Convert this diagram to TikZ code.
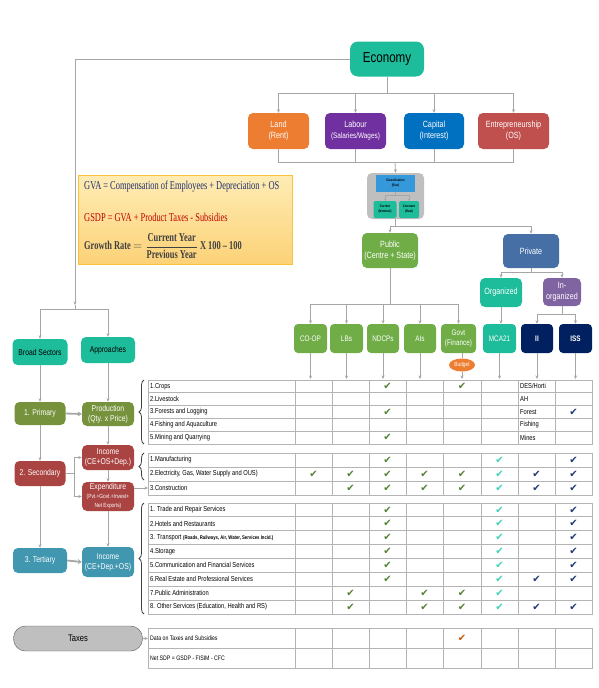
\documentclass[tikz,border=0pt]{standalone}
\usepackage{fontspec}
\usepackage{amsmath}
\setmainfont{Liberation Sans}[FakeStretch=0.8]
\newfontfamily\serifn{Liberation Serif}[FakeStretch=0.7]
\newfontfamily\dej{DejaVu Sans}
\usetikzlibrary{arrows.meta,shapes.geometric,decorations.pathreplacing,calc}
\definecolor{linegray}{RGB}{166,166,166}
\definecolor{tabgray}{RGB}{180,180,180}
\definecolor{tealA}{RGB}{29,188,154}
\definecolor{orangeA}{RGB}{237,125,49}
\definecolor{purpleA}{RGB}{112,48,160}
\definecolor{blueA}{RGB}{0,112,192}
\definecolor{redA}{RGB}{192,80,77}
\definecolor{grayA}{RGB}{191,191,191}
\definecolor{grayB}{RGB}{89,89,89}
\definecolor{blueB}{RGB}{52,152,219}
\definecolor{greenA}{RGB}{112,173,71}
\definecolor{steelA}{RGB}{70,112,165}
\definecolor{purpleB}{RGB}{128,100,162}
\definecolor{navyA}{RGB}{0,32,96}
\definecolor{oliveA}{RGB}{118,146,60}
\definecolor{redB}{RGB}{169,68,66}
\definecolor{tealB}{RGB}{65,150,176}
\definecolor{ckg}{RGB}{84,130,53}
\definecolor{ckt}{RGB}{64,208,184}
\definecolor{ckn}{RGB}{31,56,120}
\definecolor{cko}{RGB}{197,90,17}
\definecolor{fnavy}{RGB}{31,47,111}
\definecolor{fred}{RGB}{192,0,0}
\definecolor{fgray}{RGB}{64,64,64}
\definecolor{fborder}{RGB}{249,194,60}
\definecolor{ftop}{RGB}{254,236,180}
\definecolor{fbot}{RGB}{252,210,120}
\newcommand\ck[3]{\node[chk,text=#3] at (#1,#2) {✔};}
\newcommand\tabsec[4]{%
  \foreach \x in {295,332,369,406,443,481,518,555} {\draw[tabline] (\x,#1) -- (\x,#2);}
  \foreach \k in {1,...,#4} {\draw[tabline] (148,{#1+(#2-#1)*\k/#3}) -- (592,{#1+(#2-#1)*\k/#3});}
  \draw[tabline] (148,#1) rectangle (592,#2);
}
\tikzset{
  box/.style={rounded corners=5pt, align=center, inner sep=1pt, text=white,
    font=\fontsize{9}{11}\selectfont},
  lbox/.style={box, font=\fontsize{8.5}{10}\selectfont},
  cbox/.style={box, rounded corners=4pt, minimum height=29pt, font=\fontsize{8}{9.5}\selectfont},
  conn/.style={draw=linegray, line width=0.8pt},
  arr/.style={conn, -{Stealth[length=3.5pt,width=3pt]}},
  thickarr/.style={draw=linegray, line width=1.8pt, -{Stealth[length=4pt,width=5pt]}},
  tabline/.style={draw=tabgray, line width=0.8pt},
  tt/.style={anchor=west, inner sep=0pt, font=\fontsize{7.2}{8}\selectfont},
  chk/.style={inner sep=0pt, font=\dej\fontsize{10}{10}\selectfont},
  brc/.style={draw=fgray, line width=0.8pt, decorate, decoration={brace, amplitude=5pt}},
}
\begin{document}
\begin{tikzpicture}[x=1pt,y=-1pt]
\useasboundingbox (0,0) rectangle (598,688);

% ---------- top tree ----------
\node[box, fill=tealA, text=black, minimum width=74pt, minimum height=35pt, rounded corners=8pt,
  font=\fontsize{14.5}{16}\selectfont] (eco) at (387,59) {Economy};
\node[box, fill=orangeA, minimum width=61pt, minimum height=36pt] (land) at (278.5,131) {Land\\(Rent)};
\node[box, fill=purpleA, minimum width=61pt, minimum height=36pt] (labour) at (355.5,131) {Labour\\{\fontsize{8}{9}\selectfont(Salaries/Wages)}};
\node[box, fill=blueA, minimum width=60pt, minimum height=36pt] (capital) at (434,131) {Capital\\(Interest)};
\node[box, fill=redA, minimum width=71pt, minimum height=36pt] (entre) at (513.5,131) {Entrepreneurship\\(OS)};

\foreach \n in {land,labour,capital,entre} {\draw[arr] (eco.south) -- ++(0,16.5) -| (\n.north);}

\coordinate (fj) at (395,162);
\draw[conn] (land.south) |- (fj);
\draw[conn] (entre.south) |- (fj);
\draw[conn] (labour.south) -- (labour.south |- fj);
\draw[conn] (capital.south) -- (capital.south |- fj);

\node[fill=grayA, rounded corners=5pt, minimum width=57pt, minimum height=46pt, inner sep=0pt] (gbox) at (395.5,196) {};
\draw[arr] (fj) -- (gbox.north);
\node[fill=blueB, minimum width=39pt, minimum height=17pt, inner sep=0pt, align=center,
  font=\bfseries\fontsize{3.5}{5}\selectfont] (gsub) at (395.5,183.5) {Classification\\(Size)};
\node[fill=tealA, rounded corners=2pt, minimum width=23pt, minimum height=17pt, inner sep=0pt, align=center,
  font=\bfseries\fontsize{3.5}{5}\selectfont] (cur) at (385,209.5) {Current\\(Nominal)};
\node[fill=tealA, rounded corners=2pt, minimum width=20pt, minimum height=17pt, inner sep=0pt, align=center,
  font=\bfseries\fontsize{3.5}{5}\selectfont] (con) at (409,209.5) {Constant\\(Real)};
\draw[conn, line width=0.5pt, -{Stealth[length=2pt,width=2pt]}] (gsub.south) -- ++(0,3) -| (cur.north);
\draw[conn, line width=0.5pt, -{Stealth[length=2pt,width=2pt]}] (gsub.south) -- ++(0,3) -| (con.north);

\node[box, fill=greenA, minimum width=56pt, minimum height=35pt] (public) at (390,250.5) {Public\\(Centre + State)};
\node[box, fill=steelA, minimum width=56pt, minimum height=34pt] (private) at (531,251) {Private};
\draw[arr] (gbox.south) -- ++(0,7) -| (public.north);
\draw[arr] (gbox.south) -- ++(0,7) -| (private.north);

\node[box, fill=tealA, minimum width=42pt, minimum height=29pt] (org) at (501,292.5) {Organized};
\node[box, fill=purpleB, minimum width=38pt, minimum height=28pt] (inorg) at (562,292) {In-\\organized};
\draw[arr] (private.south) -- ++(0,4) -| (org.north);
\draw[arr] (private.south) -- ++(0,4) -| (inorg.north);

% column heads
\node[cbox, fill=greenA, minimum width=33pt] (coop) at (310.5,338.5) {CO-OP};
\node[cbox, fill=greenA, minimum width=33pt] (lbs) at (346.5,338.5) {LBs};
\node[cbox, fill=greenA, minimum width=32pt] (ndcp) at (383,338.5) {NDCPs};
\node[cbox, fill=greenA, minimum width=32pt] (ais) at (420,338.5) {AIs};
\node[cbox, fill=greenA, minimum width=35pt] (govt) at (458.5,338.5) {Govt\\(Finance)};
\node[cbox, fill=tealA, minimum width=33pt] (mca) at (499.5,338.5) {MCA21};
\node[cbox, fill=navyA, minimum width=32pt, font=\bfseries\fontsize{8}{9.5}\selectfont] (ii) at (537,338.5) {II};
\node[cbox, fill=navyA, minimum width=33pt, font=\bfseries\fontsize{8}{9.5}\selectfont] (iss) at (575.5,338.5) {ISS};

\foreach \n in {coop,lbs,ndcp,ais,govt} {\draw[arr] (public.south) -- ++(0,36) -| (\n.north);}
\draw[arr] (org.south) -- (org.south |- mca.north);
\draw[arr] (inorg.south) -- ++(0,8) -| (ii.north);
\draw[arr] (inorg.south) -- ++(0,8) -| (iss.north);

\node[ellipse, fill=orangeA, minimum width=26pt, minimum height=13pt, inner sep=0pt, text=white,
  font=\fontsize{6}{6.5}\selectfont] (budget) at (462,365) {Budget};
\draw[conn] (govt.south -| budget.north) -- (budget.north);

\coordinate (tabtop) at (0,379);
\foreach \n in {coop,lbs,ndcp,ais,mca,ii,iss} {\draw[arr] (\n.south) -- (\n.south |- tabtop);}
\draw[arr] (budget.south) -- (budget.south |- tabtop);

% ---------- formula box ----------
\node[draw=fborder, line width=0.8pt, top color=ftop, bottom color=fbot,
  minimum width=214pt, minimum height=89pt, inner sep=0pt] (fbox) at (185,219.5) {};
\node[anchor=west, inner sep=0pt, text=fnavy, font=\serifn\fontsize{12}{13}\selectfont] (f1) at (84,187)
  {GVA = Compensation of Employees + Depreciation + OS};
\node[anchor=west, inner sep=0pt, text=fred, font=\serifn\fontsize{12}{13}\selectfont] (f2) at (84,217)
  {GSDP = GVA + Product Taxes - Subsidies};
\node[anchor=west, inner sep=0pt, text=fgray, font=\serifn\bfseries\fontsize{12}{13}\selectfont] (f3) at (84,246)
  {Growth Rate $=\dfrac{\text{Current Year}}{\text{Previous Year}}$ X 100 – 100};

% ---------- left chain ----------
\node[lbox, fill=tealA, text=black, minimum width=55pt, minimum height=26pt] (bs) at (40,352) {Broad Sectors};
\node[lbox, fill=tealA, text=black, minimum width=54pt, minimum height=26pt] (ap) at (108,350) {Approaches};
\coordinate (lj) at (75,305);
\draw[arr] (eco.west) -| (lj);
\draw[arr] (lj) -- ++(0,4) -| (bs.north);
\draw[arr] (lj) -- ++(0,4) -| (ap.north);

\node[lbox, fill=oliveA, minimum width=51pt, minimum height=23pt] (prim) at (40,413.5) {1. Primary};
\node[lbox, fill=oliveA, minimum width=52pt, minimum height=24pt] (prod) at (108,414) {Production\\(Qty. x Price)};
\node[lbox, fill=redB, minimum width=51pt, minimum height=25pt] (sec) at (40,473.5) {2. Secondary};
\node[lbox, fill=redB, minimum width=52pt, minimum height=25pt] (inc1) at (108,457.5) {Income\\(CE+OS+Dep.)};
\node[lbox, fill=redB, minimum width=52pt, minimum height=29pt] (exp) at (108,496.5)
  {Expenditure\\[-1pt]{\fontsize{6}{6.5}\selectfont(Pvt.+Govt.+Invest+}\\[-1pt]{\fontsize{6}{6.5}\selectfont Net Exports)}};
\node[lbox, fill=tealB, minimum width=54pt, minimum height=25pt] (ter) at (40,560.5) {3. Tertiary};
\node[lbox, fill=tealB, minimum width=52pt, minimum height=30pt] (inc2) at (108,562) {Income\\(CE+Dep.+OS)};

\draw[arr] (bs.south) -- (prim.north);
\draw[arr] (ap.south) -- (prod.north);
\draw[thickarr] (prim.east) -- (prod.west);
\draw[arr] (prim.south) -- (sec.north);
\draw[arr] (prod.south) -- (inc1.north);
\draw[arr] (inc1.south) -- (exp.north);
\draw[arr] (sec.east) -- ++(9,0) |- (inc1.west);
\draw[arr] (sec.east) -- ++(9,0) |- (exp.west);
\coordinate (constr) at (148,488);
\draw[arr] (constr -| exp.east) -- (constr);
\draw[arr] (sec.south) -- (ter.north);
\draw[arr] (exp.south) -- (inc2.north);
\draw[thickarr] (ter.east) -- (inc2.west);

\node[draw=grayB, fill=grayA, rounded corners=12pt, minimum width=129pt, minimum height=25pt,
  font=\fontsize{9.5}{10}\selectfont] (taxes) at (78,638.5) {Taxes};
\coordinate (taxrow) at (148,638.5);
\draw[arr] (taxes.east) -- (taxrow);

% ---------- tables ----------
\tabsec{380}{444}{5}{4}
\tabsec{453}{495}{3}{2}
\tabsec{503}{614}{8}{7}
\tabsec{628.5}{668}{2}{1}

\draw[brc] (144,444) -- (144,380);
\draw[brc] (144,480) -- (144,453);
\draw[brc] (144,614) -- (144,503);

\node[tt] at (150,386.4) {1.Crops};
\node[tt] at (150,399.2) {2.Livestock};
\node[tt] at (150,412) {3.Forests and Logging};
\node[tt] at (150,424.8) {4.Fishing and Aquaculture};
\node[tt] at (150,437.6) {5.Mining and Quarrying};
\node[tt] at (520,386.4) {DES/Horti};
\node[tt] at (520,399.2) {AH};
\node[tt] at (520,412) {Forest};
\node[tt] at (520,424.8) {Fishing};
\node[tt] at (520,437.6) {Mines};

\node[tt] at (150,460) {1.Manufacturing};
\node[tt] at (150,474) {2.Electricity, Gas, Water Supply and OUS)};
\node[tt] at (150,488) {3.Construction};

\node[tt] at (150,509.9) {1. Trade and Repair Services};
\node[tt] at (150,523.8) {2.Hotels and Restaurants};
\node[tt] at (150,537.7) {3. Transport {\bfseries\fontsize{5.3}{6}\selectfont(Roads, Railways, Air, Water, Services Incid.)}};
\node[tt] at (150,551.6) {4.Storage};
\node[tt] at (150,565.4) {5.Communication and Financial Services};
\node[tt] at (150,579.3) {6.Real Estate and Professional Services};
\node[tt] at (150,593.2) {7.Public Administration};
\node[tt] at (150,607.1) {8. Other Services (Education, Health and RS)};

\node[tt, font=\fontsize{6.5}{7}\selectfont] at (150,638.4) {Data on Taxes and Subsidies};
\node[tt, font=\fontsize{6.5}{7}\selectfont] at (150,658.1) {Net SDP = GSDP - FISIM - CFC};

% checks section 1
\ck{387.5}{386.4}{ckg} \ck{462}{386.4}{ckg}
\ck{387.5}{412}{ckg} \ck{573.5}{412}{ckn}
\ck{387.5}{437.6}{ckg}
% section 2
\ck{387.5}{460}{ckg} \ck{499.5}{460}{ckt} \ck{573.5}{460}{ckn}
\foreach \x in {313.5,350.5,387.5,424.5,462} {\ck{\x}{474}{ckg}}
\ck{499.5}{474}{ckt} \ck{536.5}{474}{ckn} \ck{573.5}{474}{ckn}
\foreach \x in {350.5,387.5,424.5,462} {\ck{\x}{488}{ckg}}
\ck{499.5}{488}{ckt} \ck{536.5}{488}{ckn} \ck{573.5}{488}{ckn}
% section 3
\foreach \y in {509.9,523.8,537.7,551.6,565.4,579.3} {\ck{387.5}{\y}{ckg} \ck{499.5}{\y}{ckt} \ck{573.5}{\y}{ckn}}
\ck{536.5}{579.3}{ckn}
\foreach \y in {593.2,607.1} {\ck{350.5}{\y}{ckg} \ck{424.5}{\y}{ckg} \ck{462}{\y}{ckg} \ck{499.5}{\y}{ckt}}
\ck{536.5}{607.1}{ckn} \ck{573.5}{607.1}{ckn}
% section 4
\ck{462}{638.4}{cko}
\end{tikzpicture}
\end{document}
